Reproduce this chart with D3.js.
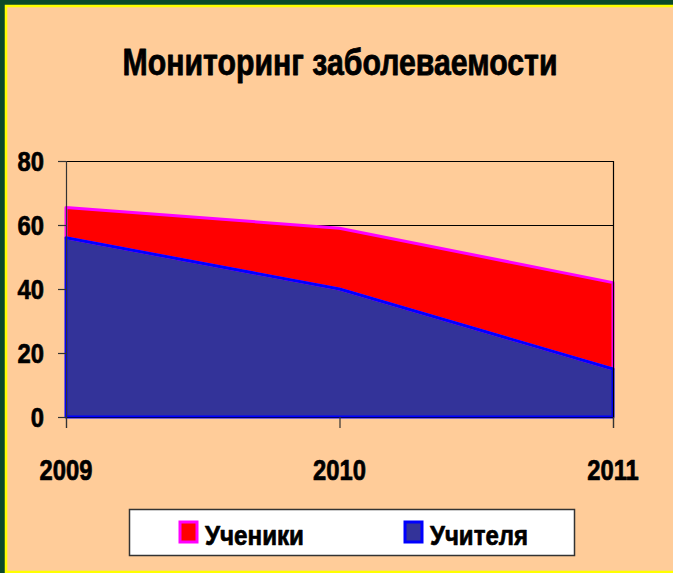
<!DOCTYPE html>
<html>
<head>
<meta charset="utf-8">
<script src="https://cdn.jsdelivr.net/npm/d3@7"></script>
<style>
  html, body { margin: 0; padding: 0; background: #0b4a2a; }
  svg { display: block; }
</style>
</head>
<body>
<div id="chart"></div>
<script>
'use strict';

var years = ['2009', '2010', '2011'];
var teachers = [56, 40, 15];     // Учителя
var students = [9.5, 19, 27];    // Ученики (stacked on top)
var yTicks = [0, 20, 40, 60, 80];
var seriesNames = ['Учителя', 'Ученики'];
var legendOrder = ['Ученики', 'Учителя'];

var width = 673;
var height = 573;
var plotLeft = 66;
var plotRight = 613;
var plotTop = 161;
var plotBottom = 417;

var bgColor = '#ffcc99';
var frameColor = '#ffff00';
var fillColors = { 'Учителя': '#333399', 'Ученики': '#ff0000' };
var strokeColors = { 'Учителя': '#0000ff', 'Ученики': '#ff00ff' };
var fontFamily = '"Liberation Sans", Arial, sans-serif';

var svg = d3.select('#chart').append('svg').attr('width', width).attr('height', height);

// background with yellow frame
svg.append('rect').attr('x', 0).attr('y', 0).attr('width', width).attr('height', height).attr('fill', '#0b4a2a');
svg.append('rect').attr('x', 6).attr('y', 6).attr('width', width + 20).attr('height', 566)
  .attr('fill', bgColor).attr('stroke', frameColor).attr('stroke-width', 2.5);

// squeeze bold text horizontally, like the narrow font of the original
function narrowText(sel, ratio) {
  sel.each(function () {
    var len = this.getComputedTextLength();
    d3.select(this).attr('textLength', len * ratio).attr('lengthAdjust', 'spacingAndGlyphs');
  });
}
function heavy(sel, w) {
  sel.attr('stroke', '#000').attr('stroke-width', w).attr('stroke-linejoin', 'round');
}

svg.append('text')
  .attr('x', 340).attr('y', 75)
  .attr('text-anchor', 'middle')
  .attr('font-family', fontFamily).attr('font-weight', 'bold').attr('font-size', 37)
  .attr('fill', '#000')
  .text('Мониторинг заболеваемости')
  .attr('textLength', 435).attr('lengthAdjust', 'spacingAndGlyphs')
  .call(heavy, 0.8);

var x = d3.scalePoint().domain(years).range([plotLeft, plotRight]);
var y = d3.scaleLinear().domain([0, 80]).range([plotBottom, plotTop]);

// gridlines
svg.append('g').selectAll('line').data(yTicks).join('line')
  .attr('x1', plotLeft).attr('x2', plotRight)
  .attr('y1', function (d) { return y(d) + 0.5; }).attr('y2', function (d) { return y(d) + 0.5; })
  .attr('stroke', '#000').attr('stroke-width', 1);

// stacked areas
var table = years.map(function (yr, i) {
  return { year: yr, 'Учителя': teachers[i], 'Ученики': students[i] };
});
var stack = d3.stack().keys(seriesNames);
var layers = stack(table);

var area = d3.area()
  .x(function (d) { return x(d.data.year); })
  .y0(function (d) { return y(d[0]); })
  .y1(function (d) { return y(d[1]); });

svg.append('g').selectAll('path').data(layers).join('path')
  .attr('d', area)
  .attr('fill', function (d) { return fillColors[d.key]; });

// outlines: upper series first so the lower series' edge stays on top
svg.append('g').selectAll('path').data(layers.slice().reverse()).join('path')
  .attr('d', area)
  .attr('fill', 'none')
  .attr('stroke', function (d) { return strokeColors[d.key]; })
  .attr('stroke-width', 3)
  .attr('stroke-linejoin', 'round');

// axes
var axisColor = '#333';
svg.append('line').attr('x1', plotLeft + 0.5).attr('x2', plotLeft + 0.5)
  .attr('y1', plotTop).attr('y2', plotBottom + 11).attr('stroke', axisColor).attr('stroke-width', 1.2);
svg.append('line').attr('x1', plotRight + 0.5).attr('x2', plotRight + 0.5)
  .attr('y1', plotTop).attr('y2', plotBottom + 11).attr('stroke', '#000').attr('stroke-width', 1.2);
svg.append('line').attr('x1', plotLeft).attr('x2', plotRight)
  .attr('y1', plotBottom + 0.5).attr('y2', plotBottom + 0.5).attr('stroke', '#000066').attr('stroke-width', 1.2);

svg.append('g').selectAll('line').data(yTicks).join('line')
  .attr('x1', plotLeft - 8).attr('x2', plotLeft)
  .attr('y1', function (d) { return y(d) + 0.5; }).attr('y2', function (d) { return y(d) + 0.5; })
  .attr('stroke', axisColor).attr('stroke-width', 1.2);

svg.append('g').selectAll('line').data(years).join('line')
  .attr('x1', function (d) { return x(d) + 0.5; }).attr('x2', function (d) { return x(d) + 0.5; })
  .attr('y1', plotBottom).attr('y2', plotBottom + 11)
  .attr('stroke', axisColor).attr('stroke-width', 1.2);

svg.append('g').selectAll('text').data(yTicks).join('text')
  .attr('x', 44).attr('y', function (d) { return y(d) + 10; })
  .attr('text-anchor', 'end')
  .attr('font-family', fontFamily).attr('font-weight', 'bold').attr('font-size', 28)
  .text(function (d) { return d; })
  .call(narrowText, 0.85)
  .call(heavy, 0.7);

svg.append('g').selectAll('text').data(years).join('text')
  .attr('x', function (d) { return x(d); }).attr('y', 480)
  .attr('text-anchor', 'middle')
  .attr('font-family', fontFamily).attr('font-weight', 'bold').attr('font-size', 29)
  .text(function (d) { return d; })
  .call(narrowText, 0.82)
  .call(heavy, 0.7);

// legend
var legend = svg.append('g');
legend.append('rect').attr('x', 129.5).attr('y', 509.5).attr('width', 445).attr('height', 46)
  .attr('fill', '#fff').attr('stroke', '#333').attr('stroke-width', 1.5);

var legendX = [180, 405];
var items = legend.selectAll('g.item').data(legendOrder).join('g').attr('class', 'item')
  .attr('transform', function (d, i) { return 'translate(' + legendX[i] + ',0)'; });
items.append('rect').attr('x', 0).attr('y', 522).attr('width', 17).attr('height', 20)
  .attr('fill', function (d) { return fillColors[d]; })
  .attr('stroke', function (d) { return strokeColors[d]; })
  .attr('stroke-width', 3);
items.append('text').attr('x', 25).attr('y', 545)
  .attr('font-family', fontFamily).attr('font-weight', 'bold').attr('font-size', 28)
  .text(function (d) { return d; })
  .attr('textLength', function (d, i) { return i === 0 ? 99 : 98; })
  .attr('lengthAdjust', 'spacingAndGlyphs')
  .call(heavy, 0.7);
</script>
</body>
</html>
